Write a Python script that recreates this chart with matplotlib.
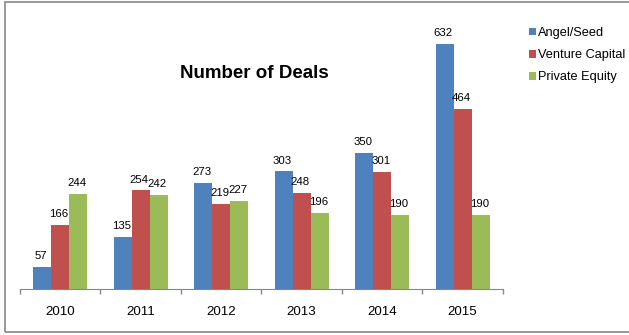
import matplotlib
matplotlib.use("Agg")
import matplotlib.pyplot as plt
import numpy as np
from matplotlib.patches import Rectangle

plt.rcParams["font.family"] = ["Liberation Sans", "DejaVu Sans"]

# data
years = ["2010", "2011", "2012", "2013", "2014", "2015"]
angel_seed = [57, 135, 273, 303, 350, 632]
venture_capital = [166, 254, 219, 248, 301, 464]
private_equity = [244, 242, 227, 196, 190, 190]

series = [("Angel/Seed", angel_seed, "#4F81BD"),
          ("Venture Capital", venture_capital, "#C0504D"),
          ("Private Equity", private_equity, "#9BBB59")]

W, H = 629, 335
fig = plt.figure(figsize=(W / 100, H / 100), dpi=100)
ax = fig.add_axes([20 / W, 46 / H, 483 / W, 271.5 / H])

x = np.arange(len(years))
bw = 0.224
for i, (name, vals, col) in enumerate(series):
    pos = x + (i - 1) * bw
    ax.bar(pos, vals, width=bw, color=col, label=name)
    for px, v in zip(pos, vals):
        ax.annotate(str(v), (px, v), xytext=(-1, 4.3), textcoords="offset points",
                    ha="center", va="bottom", fontsize=8.2)

ax.set_xlim(-0.5, len(years) - 0.5)
ax.set_ylim(0, 700)

# category axis: labels in the middle, ticks on the boundaries
ax.set_xticks(x)
ax.set_xticklabels(years, fontsize=9.6)
ax.set_xticks(np.arange(-0.5, len(years)), minor=True)
ax.tick_params(axis="x", which="major", length=0, pad=12)
ax.tick_params(axis="x", which="minor", length=3.6, color="#868686", width=1)
ax.set_yticks([])
for s in ["left", "right", "top"]:
    ax.spines[s].set_visible(False)
ax.spines["bottom"].set_color("#868686")

fig.text(254 / W, 1 - 73 / H, "Number of Deals", ha="center", va="center",
         fontsize=13.5, fontweight="bold")

fig.legend(loc="upper left", bbox_to_anchor=(529 / W, 1 - 27 / H), frameon=False,
           fontsize=9.2, handlelength=0.55, handleheight=0.55, handletextpad=0.15,
           labelspacing=0.8, borderpad=0, borderaxespad=0)

# outer chart border
fig.patches.append(Rectangle((5 / W, 3 / H), 1.0, 1 - 5 / H, transform=fig.transFigure,
                             fill=False, edgecolor="#868686", linewidth=1.2))

fig.savefig("out.png", dpi=100)
